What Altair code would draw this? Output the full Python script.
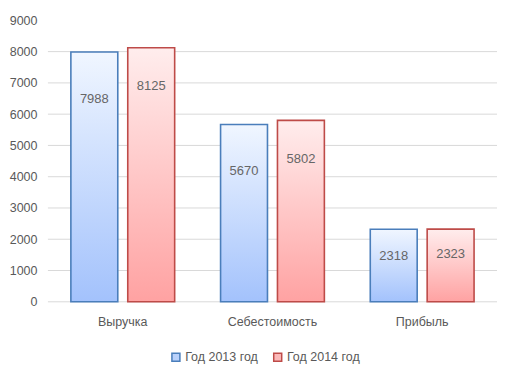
import altair as alt
import pandas as pd

categories = ["Выручка", "Себестоимость", "Прибыль"]
series = ["Год 2013 год", "Год 2014 год"]
values_2013 = [7988, 5670, 2318]
values_2014 = [8125, 5802, 2323]
label_at_2013 = [6500, 4175, 1460]
label_at_2014 = [6915, 4560, 1530]
y_ticks = list(range(0, 10000, 1000))
grid_lines = list(range(0, 9000, 1000))

blue = "#4a7ebb"
red = "#be4b48"
text_color = "#595959"
font = "Liberation Sans"

rows = []
for i, c in enumerate(categories):
    rows.append({"cat": c, "series": series[0], "value": values_2013[i], "label_at": label_at_2013[i]})
    rows.append({"cat": c, "series": series[1], "value": values_2014[i], "label_at": label_at_2014[i]})
df = pd.DataFrame(rows)
grid_df = pd.DataFrame({"v": grid_lines})

grad_blue = {"gradient": "linear", "x1": 0, "y1": 0, "x2": 0, "y2": 1,
             "stops": [{"offset": 0, "color": "#f0f6ff"}, {"offset": 1, "color": "#a3c2fc"}]}
grad_red = {"gradient": "linear", "x1": 0, "y1": 0, "x2": 0, "y2": 1,
            "stops": [{"offset": 0, "color": "#ffeded"}, {"offset": 1, "color": "#ffa2a2"}]}

yscale = alt.Scale(domain=[0, 9000], nice=False)
xscale = alt.Scale(paddingInner=0, paddingOuter=0)
xoff_scale = alt.Scale(domain=series, paddingInner=0.1754, paddingOuter=0.4035)
stroke_scale = alt.Scale(domain=series, range=[blue, red])
fill_scale = alt.Scale(domain=series, range=["#b9d1fb", "#fbb9b9"])

legend = alt.Legend(title=None, orient="none", direction="horizontal",
                    legendX=122, legendY=331, symbolType="square",
                    symbolSize=64, symbolStrokeWidth=1.5,
                    labelFontSize=12.5, labelColor=text_color, labelFont=font,
                    labelOffset=3, columnPadding=12)

x_axis = alt.Axis(title=None, labelAngle=0, domain=False, ticks=False,
                  labelPadding=14, labelFontSize=12.5, labelColor=text_color,
                  labelFont=font)
y_axis = alt.Axis(title=None, values=y_ticks, format="d", labelOverlap=False,
                  grid=False, domain=False, ticks=False,
                  labelPadding=11, labelFontSize=12.5, labelColor=text_color,
                  labelFont=font)

grid = alt.Chart(grid_df).mark_rule(color="#d9d9d9", strokeWidth=1).encode(
    y=alt.Y("v:Q", scale=yscale, axis=y_axis)
)

bars = alt.Chart(df).mark_bar(strokeWidth=1.6).encode(
    x=alt.X("cat:N", sort=categories, scale=xscale, axis=x_axis),
    xOffset=alt.XOffset("series:N", sort=series, scale=xoff_scale),
    y=alt.Y("value:Q", scale=yscale, axis=y_axis),
    fill=alt.when(alt.datum.series == series[0]).then(alt.value(grad_blue)).otherwise(alt.value(grad_red)),
    stroke=alt.Stroke("series:N", scale=stroke_scale, legend=legend),
)

legend_layer = alt.Chart(df).mark_square(size=0, strokeWidth=0).encode(
    x=alt.X("cat:N", sort=categories, scale=xscale, axis=x_axis),
    y=alt.Y("value:Q", scale=yscale, axis=y_axis),
    fill=alt.Fill("series:N", scale=fill_scale, legend=legend),
    stroke=alt.Stroke("series:N", scale=stroke_scale, legend=legend),
)

labels = alt.Chart(df).mark_text(color="#666666", fontSize=13, font=font).encode(
    x=alt.X("cat:N", sort=categories, scale=xscale, axis=x_axis),
    xOffset=alt.XOffset("series:N", sort=series, scale=xoff_scale),
    y=alt.Y("label_at:Q", scale=yscale, axis=y_axis),
    text=alt.Text("value:Q", format="d"),
)

chart = alt.layer(grid, bars, legend_layer, labels).properties(
    width=450, height=282,
    autosize=alt.AutoSizeParams(type="none"),
    padding={"left": 40, "top": 12, "right": 10, "bottom": 80},
    background="white",
).configure_view(stroke=None)

chart.save("out.html", embed_options={"renderer": "svg", "actions": False})
